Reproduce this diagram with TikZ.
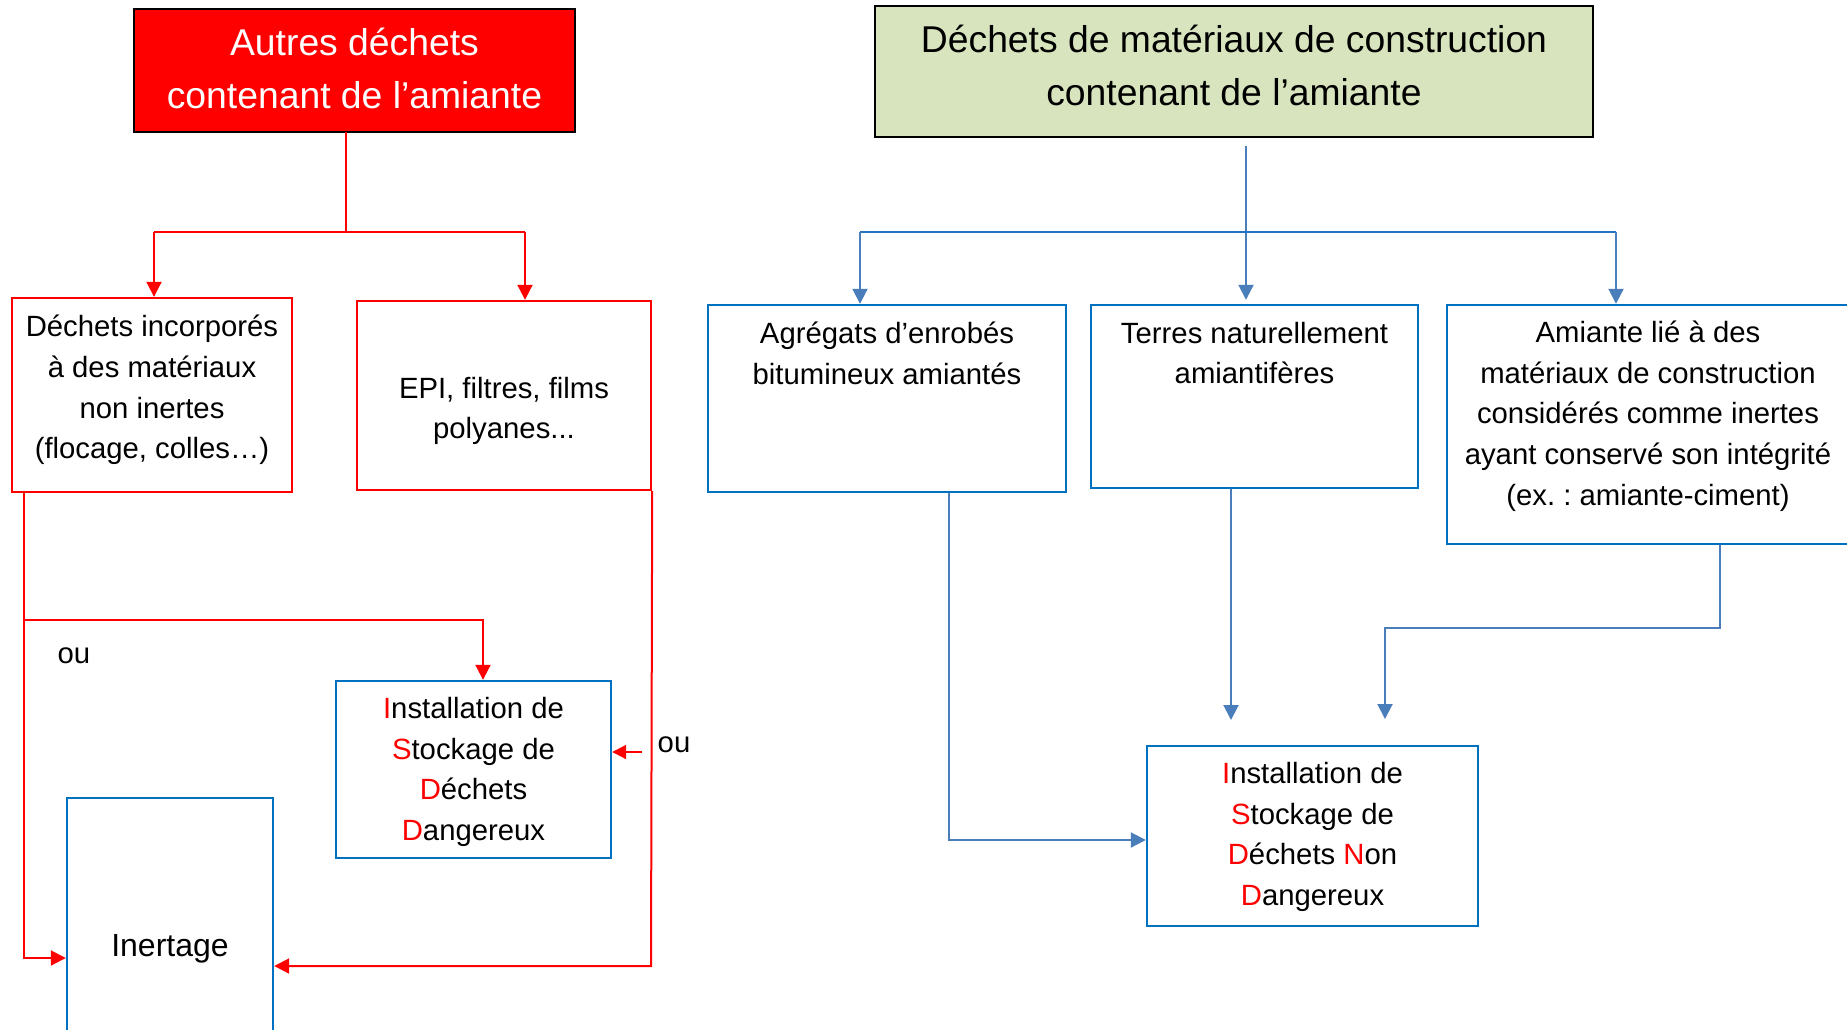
\documentclass[tikz,border=0pt]{standalone}
\usepackage{fontspec}
\setmainfont{Liberation Sans}
\usetikzlibrary{arrows.meta,calc}
\definecolor{boxblue}{HTML}{0070C0}
\definecolor{lineblue}{HTML}{4A7EBB}
\definecolor{hblue}{HTML}{2472C0}
\definecolor{pgreen}{HTML}{D7E4BD}
\definecolor{pred}{HTML}{FF0000}
\frenchspacing
\begin{document}
\begin{tikzpicture}[x=1pt,y=-1pt,
  bluebox/.style={draw=boxblue,line width=2.4pt,inner sep=0pt},
  redbox/.style={draw=pred,line width=2.4pt,inner sep=0pt},
  txt/.style={align=center,inner sep=0pt,font=\fontsize{29.3}{40.7}\selectfont},
  ttl/.style={align=center,inner sep=0pt,font=\fontsize{37.3}{53}\selectfont},
  rline/.style={draw=pred,line width=2pt},
  bline/.style={draw=lineblue,line width=2pt},
  hline/.style={draw=hblue,line width=2pt},
  rarr/.style={rline,-{Triangle[width=15pt,length=15pt]}},
  barr/.style={bline,-{Triangle[width=15pt,length=15pt]}},
  rsarr/.style={rline,-{Triangle[width=14pt,length=14pt]}}
]
\clip (0,0) rectangle (1847,1029);
\fill[white] (0,0) rectangle (1847,1029);

% boxes
\path[draw=black,fill=pred,line width=2.4pt] (134,9) rectangle (575,132);
\node[inner sep=0pt,minimum width=441pt,minimum height=123pt] (rt) at (354.5,70.5) {};
\node[ttl,text=white] (rtt) at (354.5,68) {Autres déchets\\contenant de l’amiante};

\path[draw=black,fill=pgreen,line width=2.4pt] (875,6) rectangle (1593,137);
\node[inner sep=0pt,minimum width=718pt,minimum height=131pt] (gt) at (1234,71.5) {};
\node[ttl] (gtt) at (1234,65) {Déchets de matériaux de construction\\contenant de l’amiante};

\node[redbox,minimum width=280pt,minimum height=194pt] (inc) at (152,395) {};
\node[txt] (inct) at (152,390) {Déchets incorporés\\à des matériaux\\non inertes\\(flocage, colles…)};

\node[redbox,minimum width=294pt,minimum height=189pt] (epi) at (504,395.5) {};
\node[txt] (epit) at (504,411) {EPI, filtres, films\\polyanes...};

\node[bluebox,minimum width=275pt,minimum height=177pt] (isdd) at (473.5,769.5) {};
\node[txt] (isddt) at (473.5,772) {{\color{pred}I}nstallation de\\{\color{pred}S}tockage de\\{\color{pred}D}échets\\{\color{pred}D}angereux};

\node[bluebox,minimum width=206pt,minimum height=247pt] (inert) at (170,921.5) {};
\node[txt,font=\fontsize{32}{40}\selectfont] (inertt) at (170,949) {Inertage};

\node[bluebox,minimum width=358pt,minimum height=187pt] (agr) at (887,398.5) {};
\node[txt] (agrt) at (887,353) {Agrégats d’enrobés\\bitumineux amiantés};

\node[bluebox,minimum width=327pt,minimum height=183pt] (ter) at (1254.5,396.5) {};
\node[txt] (tert) at (1254.5,353) {Terres naturellement\\amiantifères};

\node[bluebox,minimum width=403pt,minimum height=239pt] (aml) at (1648.5,424.5) {};
\node[txt] (amlt) at (1648,416) {Amiante lié à des\\matériaux de construction\\considérés comme inertes\\ayant conservé son intégrité\\(ex. : amiante-ciment)};

\node[bluebox,minimum width=331pt,minimum height=180pt] (isdnd) at (1312.5,836) {};
\node[txt] (isdndt) at (1312.5,837) {{\color{pred}I}nstallation de\\{\color{pred}S}tockage de\\{\color{pred}D}échets {\color{pred}N}on\\{\color{pred}D}angereux};

% labels
\node[txt] (ou1) at (74,656) {ou};
\node[txt] (ou2) at (674,745) {ou};

% red connectors
\coordinate (rc) at (346,232);
\coordinate (rl) at (154,232);
\coordinate (rr) at (525,232);
\draw[rline] (rt.south -| rc) -- (rc);
\draw[rline] (rl) -- (rr);
\draw[rarr] (rl) -- (inc.north -| rl);
\draw[rarr] (rr) -- (epi.north -| rr);

\coordinate (lb) at (24,958);
\coordinate (lm) at (24,620);
\coordinate (lm2) at (483,620);
\draw[rarr] (inc.south -| lb) -- (lb) -- (inert.west |- lb);
\draw[rarr] (lm) -- (lm2) -- (isdd.north -| lm2);

\coordinate (rb) at (651,966);
\draw[rarr] (epi.south east) -- (rb) -- (inert.east |- rb);
\coordinate (sa) at (642,752);
\draw[rsarr] (sa) -- (isdd.east |- sa);

% blue connectors
\coordinate (bt) at (1246,146);
\draw[barr] (bt) -- ($(ter.north -| bt)+(0,-4)$);
\coordinate (bl) at (860,232);
\coordinate (br) at (1616,232);
\draw[hline] (bl) -- (br);
\draw[barr] (bl) -- (agr.north -| bl);
\draw[barr] (br) -- (aml.north -| br);

\coordinate (ab) at (949,840);
\draw[barr] (agr.south -| ab) -- (ab) -- (isdnd.west |- ab);
\coordinate (tb) at (1231,720);
\draw[barr] (ter.south -| tb) -- (tb);
\coordinate (mb1) at (1720,628);
\coordinate (mb2) at (1385,628);
\coordinate (mb3) at (1385,719);
\draw[barr] (aml.south -| mb1) -- (mb1) -- (mb2) -- (mb3);
\end{tikzpicture}
\end{document}
